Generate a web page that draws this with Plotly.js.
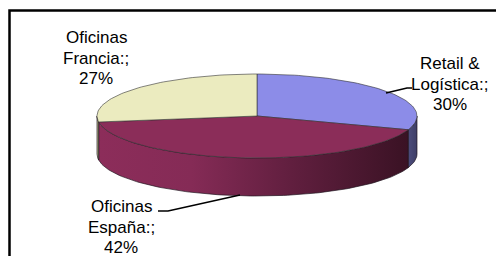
<!DOCTYPE html>
<html>
<head>
<meta charset="utf-8">
<script src="https://cdn.plot.ly/plotly-3.0.1.min.js"></script>
<style>
  html, body { margin: 0; padding: 0; background: #ffffff; }
  #chart { width: 496px; height: 256px; }
</style>
</head>
<body>
<div id="chart"></div>
<script>
// ---- data ----
const categories = ['Retail & Logística', 'Oficinas España', 'Oficinas Francia'];
const values = [30, 42, 27];
const labelLines = [
  ['Retail &', 'Logística:;', '30%'],
  ['Oficinas', 'España:;', '42%'],
  ['Oficinas', 'Francia:;', '27%']
];

// ---- styles / layout ----
const topColors = ['#8c8ce8', '#8b2d59', '#ebebbf'];
const sideScales = [
  [[0, '#4c4c7c'], [1, '#3e3e66']],
  [[0, '#8c2d5a'], [0.3, '#852b56'], [0.65, '#5e1e3d'], [1, '#3a1224']],
  [[0, '#b8b88c'], [1, '#a9a97c']]
];
const geo = { cx: 257, cy: 116, rx: 160, ry: 42, depth: 38 };
const labelPos = [[450, 84], [121, 227], [96, 58]];
const lineGap = 20.5;
const leaderPaths = ['M386,93 L407,88 L412,88', 'M240,195 L168,211 L158,211', ''];

function pt(deg, dy) {
  const r = deg * Math.PI / 180;
  return [geo.cx + geo.rx * Math.sin(r), geo.cy - geo.ry * Math.cos(r) + dy];
}
function arc(a, b, dy) {
  const n = Math.max(4, Math.ceil(Math.abs(b - a) / 1.5));
  const out = [];
  for (let i = 0; i <= n; i++) out.push(pt(a + (b - a) * i / n, dy));
  return out;
}

const total = values.reduce((s, v) => s + v, 0);
const slices = [];
let acc = 0;
values.forEach((v, i) => {
  const a = acc / total * 360;
  acc += v;
  const b = acc / total * 360;
  slices.push({ a, b, i });
});

const traces = [];
// side walls (front half only: 90..270 degrees)
slices.forEach(s => {
  const a = Math.max(s.a, 90), b = Math.min(s.b, 270);
  if (a >= b) return;
  const pts = arc(a, b, 0).concat(arc(b, a, geo.depth));
  pts.push(pts[0]);
  traces.push({
    type: 'scatter', mode: 'lines',
    x: pts.map(p => p[0]), y: pts.map(p => p[1]),
    fill: 'toself',
    fillgradient: { type: 'horizontal', colorscale: sideScales[s.i] },
    line: { color: 'rgba(30,20,30,0.85)', width: 0.8 },
    hoverinfo: 'skip', showlegend: false, name: categories[s.i]
  });
});
// top faces
slices.forEach(s => {
  const pts = [[geo.cx, geo.cy]].concat(arc(s.a, s.b, 0));
  pts.push([geo.cx, geo.cy]);
  traces.push({
    type: 'scatter', mode: 'lines',
    x: pts.map(p => p[0]), y: pts.map(p => p[1]),
    fill: 'toself', fillcolor: topColors[s.i],
    line: { color: 'rgba(50,50,50,0.75)', width: 0.8 },
    hoverinfo: 'skip', showlegend: false, name: categories[s.i]
  });
});

const annotations = [];
labelLines.forEach((lines, i) => {
  lines.forEach((line, k) => {
    annotations.push({
      x: labelPos[i][0], y: labelPos[i][1] + (k - 1) * lineGap, xref: 'x', yref: 'y',
      text: line, showarrow: false, align: 'center',
      xanchor: 'center', yanchor: 'middle',
      font: { family: 'Liberation Sans, Arial, sans-serif', size: 17, color: '#000000' }
    });
  });
});

const shapes = leaderPaths.filter(p => p).map(p => ({
  type: 'path', path: p, xref: 'x', yref: 'y',
  line: { color: '#000000', width: 1.5 }
}));
shapes.push({
  type: 'rect', xref: 'x', yref: 'y', x0: 9.5, y0: 10.5, x1: 520, y1: 280,
  line: { color: '#000000', width: 2.5 }, fillcolor: 'rgba(0,0,0,0)', layer: 'below'
});

const layout = {
  width: 496, height: 256,
  margin: { l: 0, r: 0, t: 0, b: 0 },
  paper_bgcolor: '#ffffff', plot_bgcolor: '#ffffff',
  xaxis: { range: [0, 496], visible: false, fixedrange: true },
  yaxis: { range: [256, 0], visible: false, fixedrange: true },
  annotations, shapes, showlegend: false
};

Plotly.newPlot('chart', traces, layout, { staticPlot: true, displayModeBar: false });
</script>
</body>
</html>
